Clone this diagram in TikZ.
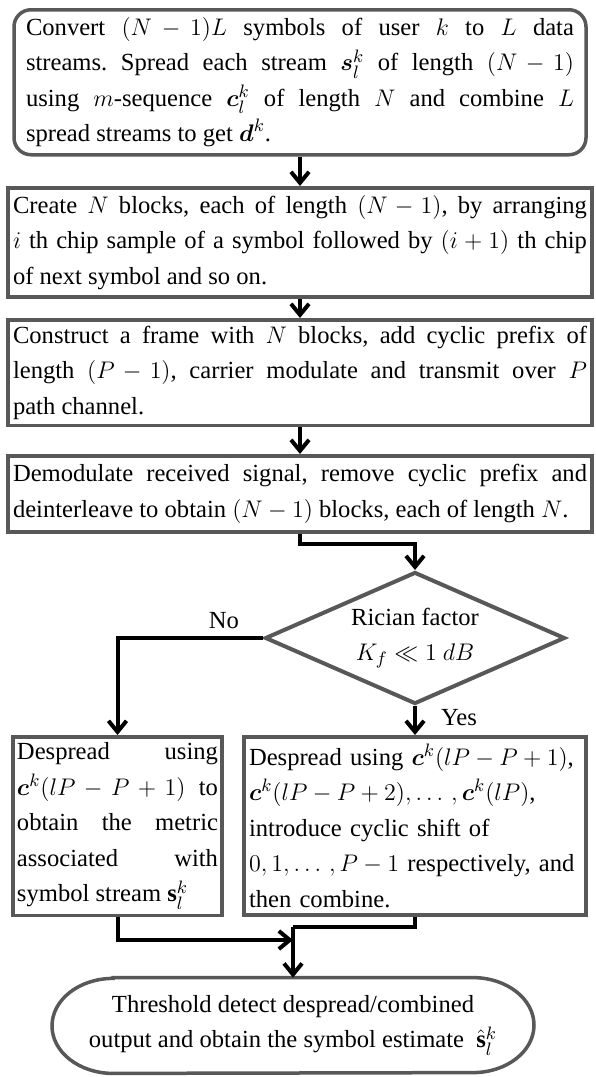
\documentclass[tikz,border=0pt]{standalone}
\usepackage{fontspec}
\setmainfont{Liberation Serif}
\usepackage{amsmath}
\usetikzlibrary{shapes.geometric,arrows.meta}
\definecolor{boxgray}{RGB}{88,88,88}
\frenchspacing
\medmuskip=4mu plus 1mu
\thickmuskip=5mu plus 1mu

\begin{document}
\begin{tikzpicture}[x=0.5pt,y=-0.5pt,
  every node/.style={font=\fontsize{12.3}{17.75}\selectfont},
  stepbox/.style={draw=boxgray,line width=1.75pt,anchor=north,align=justify,inner ysep=3pt},
  flow/.style={line width=2pt,-{Straight Barb[length=5.5pt,width=9pt]}}]
\useasboundingbox (0,0) rectangle (595,1077);

\node[stepbox,rounded corners=8.5pt,text width=274pt,inner xsep=6pt,minimum height=72.5pt] (convert) at (300,8)
  {Convert $(N-1)L$ symbols of user $k$ to $L$ data\linebreak
   streams. Spread each stream $\boldsymbol{s}_l^k$ of length $(N-1)$\linebreak
   using $m$-sequence $\boldsymbol{c}_l^k$ of length $N$ and combine $L$\linebreak
   spread streams to get $\boldsymbol{d}^k$.};
\node[stepbox,text width=287pt,inner xsep=2.5pt,minimum height=54.5pt] (block) at (300,186)
  {Create $N$ blocks, each of length $(N-1)$, by arranging\linebreak
   $i$ th chip sample of a symbol followed by $(i+1)$ th chip\linebreak
   of next symbol and so on.};
\node[stepbox,text width=287pt,inner xsep=2.5pt,minimum height=52.5pt] (frame) at (300,318)
  {Construct a frame with $N$ blocks, add cyclic prefix of\linebreak
   length $(P-1)$, carrier modulate and transmit over $P$\linebreak
   path channel.};
\node[stepbox,text width=287pt,inner xsep=2.5pt,minimum height=38pt] (demod) at (300,454)
  {Demodulate received signal, remove cyclic prefix and\linebreak
   deinterleave to obtain $(N-1)$ blocks, each of length $N$.};
\node[diamond,aspect=2.27,draw=boxgray,line width=2pt,align=center,inner sep=0pt,
  minimum width=150pt,minimum height=66pt] (rician) at (415,638)
  {Rician factor\\ $K_f \ll 1\ dB$};
\node[stepbox,text width=100.5pt,inner xsep=2pt,minimum height=89pt] (despL) at (117.5,735)
  {Despread using\linebreak
   $\boldsymbol{c}^k(lP-P+1)$ to\linebreak
   obtain the metric\linebreak
   associated with\linebreak
   symbol stream $\mathbf{s}_l^k$};
\node[stepbox,align=left,text width=166pt,inner xsep=2.5pt,minimum height=89pt] (despR) at (415,735)
  {Despread using $\boldsymbol{c}^k(lP-P+1)$,\\
   $\boldsymbol{c}^k(lP-P+2), \ldots\,, \boldsymbol{c}^k(lP)$,\\
   introduce cyclic shift of\\
   $0,1, \ldots\,, P-1$ respectively, and\\
   then combine.};
\node[align=center,minimum width=241pt,minimum height=47.5pt] (detect) at (293,1025.5)
  {Threshold detect despread/combined\\
   output and obtain the symbol estimate~ $\hat{\mathbf{s}}_l^k$};
\draw[draw=boxgray,line width=1.75pt] ([xshift=-90pt]detect.north) -- ([xshift=90pt]detect.north)
  arc[start angle=-90,end angle=90,x radius=61,y radius=47.5] -- ([xshift=-90pt]detect.south)
  arc[start angle=90,end angle=270,x radius=61,y radius=47.5] -- cycle;

\draw[flow] (convert.south) -- (block.north);
\draw[flow] (block.south) -- (frame.north);
\draw[flow] (frame.south) -- (demod.north);
\draw[flow] (demod.south) -- ++(0,10) -| (rician.north);
\draw[flow] (rician.west) -| (despL.north);
\node (no) at (224,621) {No};
\draw[flow] (rician.south) -- (despR.north);
\node (yes) at (459,718) {Yes};
\coordinate (join) at (293,927);
\coordinate (meet) at (293,940);
\draw[line width=2pt] (despR.south) |- (join);
\draw[flow] (despL.south) |- (meet);
\draw[flow] (join) -- (detect.north);
\end{tikzpicture}
\end{document}
